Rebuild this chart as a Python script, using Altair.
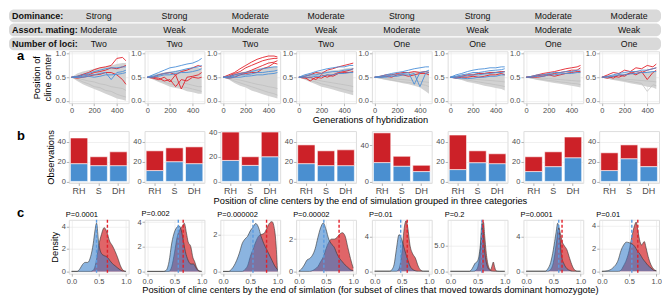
import altair as alt
import pandas as pd

FONT = "Liberation Sans"

# ---------------- header ----------------
HEADER_LABELS = ["Dominance:", "Assort. mating:", "Number of loci:"]
DOMINANCE = ["Strong", "Strong", "Moderate", "Moderate", "Strong", "Strong", "Moderate", "Moderate"]
ASSORT = ["Moderate", "Weak", "Moderate", "Weak", "Moderate", "Weak", "Moderate", "Weak"]
LOCI = ["Two", "Two", "Two", "Two", "One", "One", "One", "One"]

# ---------------- panel a: trajectories ----------------
GENS = [0, 50, 100, 150, 200, 250, 300, 350, 400, 450, 480]
GRAY_LO = [
    [0.5, 0.42, 0.35, 0.3, 0.25, 0.2, 0.15, 0.1, 0.05, 0.02, 0.0],
    [0.5, 0.45, 0.4, 0.35, 0.3, 0.27, 0.25, 0.2, 0.18, 0.15, 0.15],
    [0.5, 0.45, 0.38, 0.32, 0.28, 0.22, 0.18, 0.14, 0.1, 0.07, 0.05],
    [0.5, 0.45, 0.4, 0.35, 0.3, 0.27, 0.24, 0.2, 0.17, 0.14, 0.12],
    [0.5, 0.47, 0.44, 0.42, 0.4, 0.37, 0.35, 0.32, 0.28, 0.2, 0.15],
    [0.5, 0.47, 0.44, 0.4, 0.38, 0.35, 0.32, 0.3, 0.27, 0.25, 0.22],
    [0.5, 0.47, 0.44, 0.42, 0.4, 0.38, 0.36, 0.34, 0.32, 0.3, 0.28],
    [0.5, 0.47, 0.44, 0.42, 0.4, 0.37, 0.35, 0.33, 0.3, 0.28, 0.25],
]
GRAY_HI = [
    [0.5, 0.58, 0.62, 0.65, 0.68, 0.7, 0.72, 0.75, 0.78, 0.8, 0.8],
    [0.5, 0.55, 0.58, 0.6, 0.62, 0.64, 0.65, 0.68, 0.7, 0.7, 0.7],
    [0.5, 0.55, 0.58, 0.6, 0.62, 0.65, 0.68, 0.7, 0.72, 0.72, 0.72],
    [0.5, 0.55, 0.58, 0.6, 0.62, 0.63, 0.65, 0.66, 0.68, 0.7, 0.7],
    [0.5, 0.53, 0.55, 0.57, 0.58, 0.6, 0.6, 0.62, 0.62, 0.63, 0.63],
    [0.5, 0.53, 0.55, 0.57, 0.58, 0.6, 0.6, 0.62, 0.62, 0.63, 0.63],
    [0.5, 0.53, 0.55, 0.57, 0.58, 0.6, 0.6, 0.6, 0.62, 0.62, 0.62],
    [0.5, 0.53, 0.55, 0.57, 0.58, 0.6, 0.6, 0.62, 0.62, 0.63, 0.63],
]
# a few individual grey trajectories drawn over the grey envelope
GRAY_LINES = [
    [[0.5, 0.46, 0.4, 0.36, 0.3, 0.28, 0.22, 0.2, 0.14, 0.1, 0.08],
     [0.5, 0.48, 0.45, 0.42, 0.4, 0.36, 0.34, 0.3, 0.28, 0.26, 0.22]],
    [[0.5, 0.47, 0.43, 0.4, 0.36, 0.33, 0.3, 0.28, 0.25, 0.22, 0.2],
     [0.5, 0.49, 0.47, 0.44, 0.42, 0.4, 0.38, 0.36, 0.33, 0.3, 0.3]],
    [[0.5, 0.47, 0.42, 0.38, 0.34, 0.3, 0.26, 0.22, 0.18, 0.15, 0.12],
     [0.5, 0.49, 0.46, 0.44, 0.41, 0.38, 0.35, 0.33, 0.3, 0.28, 0.26]],
    [[0.5, 0.47, 0.43, 0.4, 0.36, 0.33, 0.3, 0.27, 0.24, 0.21, 0.2],
     [0.5, 0.49, 0.47, 0.45, 0.42, 0.4, 0.38, 0.36, 0.34, 0.32, 0.3]],
    [[0.5, 0.48, 0.46, 0.44, 0.42, 0.4, 0.39, 0.37, 0.35, 0.33, 0.3],
     [0.5, 0.49, 0.48, 0.47, 0.46, 0.45, 0.44, 0.42, 0.41, 0.4, 0.39]],
    [[0.5, 0.48, 0.46, 0.44, 0.42, 0.4, 0.38, 0.36, 0.34, 0.32, 0.3],
     [0.5, 0.49, 0.48, 0.47, 0.46, 0.45, 0.44, 0.43, 0.42, 0.41, 0.4]],
    [[0.5, 0.48, 0.46, 0.45, 0.43, 0.42, 0.4, 0.39, 0.37, 0.36, 0.34],
     [0.5, 0.49, 0.48, 0.48, 0.47, 0.46, 0.45, 0.44, 0.43, 0.42, 0.42]],
    [[0.5, 0.48, 0.46, 0.45, 0.43, 0.41, 0.39, 0.37, 0.2, 0.34, 0.32],
     [0.5, 0.49, 0.48, 0.47, 0.46, 0.45, 0.44, 0.43, 0.42, 0.41, 0.4]],
]
RED_LINES = [
    [[0.5, 0.52, 0.56, 0.6, 0.66, 0.7, 0.72, 0.75, 0.9, 0.92, 0.85],
     [0.5, 0.5, 0.55, 0.55, 0.6, 0.62, 0.65, 0.7, 0.68, 0.72, 0.75],
     [0.5, 0.48, 0.5, 0.52, 0.55, 0.56, 0.6, 0.6, 0.55, 0.45, 0.35]],
    [[0.5, 0.5, 0.55, 0.58, 0.6, 0.55, 0.62, 0.65, 0.7, 0.75, 0.72],
     [0.5, 0.48, 0.45, 0.5, 0.4, 0.55, 0.25, 0.5, 0.52, 0.55, 0.6],
     [0.5, 0.5, 0.48, 0.42, 0.45, 0.3, 0.45, 0.42, 0.5, 0.48, 0.5]],
    [[0.5, 0.55, 0.6, 0.68, 0.75, 0.82, 0.88, 0.92, 0.95, 0.95, 0.93],
     [0.5, 0.52, 0.58, 0.62, 0.7, 0.75, 0.8, 0.85, 0.88, 0.9, 0.9],
     [0.5, 0.5, 0.55, 0.58, 0.6, 0.65, 0.7, 0.75, 0.8, 0.82, 0.85],
     [0.5, 0.48, 0.5, 0.55, 0.58, 0.6, 0.6, 0.68, 0.72, 0.8, 0.78]],
    [[0.5, 0.52, 0.55, 0.6, 0.58, 0.65, 0.68, 0.72, 0.75, 0.78, 0.8],
     [0.5, 0.48, 0.5, 0.45, 0.55, 0.5, 0.55, 0.6, 0.62, 0.65, 0.68],
     [0.5, 0.5, 0.42, 0.5, 0.48, 0.55, 0.52, 0.58, 0.6, 0.6, 0.62]],
    [[0.5, 0.52, 0.55, 0.55, 0.58, 0.6, 0.6, 0.62, 0.6, 0.62, 0.6],
     [0.5, 0.5, 0.52, 0.5, 0.55, 0.55, 0.52, 0.55, 0.58, 0.58, 0.55]],
    [[0.5, 0.5, 0.52, 0.55, 0.55, 0.58, 0.58, 0.6, 0.6, 0.62, 0.62],
     [0.5, 0.48, 0.5, 0.5, 0.52, 0.5, 0.52, 0.55, 0.55, 0.58, 0.55]],
    [[0.5, 0.52, 0.55, 0.58, 0.6, 0.62, 0.65, 0.68, 0.7, 0.72, 0.75],
     [0.5, 0.5, 0.53, 0.55, 0.55, 0.58, 0.6, 0.62, 0.65, 0.65, 0.7],
     [0.5, 0.5, 0.5, 0.52, 0.55, 0.52, 0.55, 0.58, 0.6, 0.62, 0.62]],
    [[0.5, 0.55, 0.6, 0.58, 0.65, 0.62, 0.7, 0.68, 0.75, 0.72, 0.78],
     [0.5, 0.52, 0.48, 0.55, 0.52, 0.6, 0.55, 0.62, 0.45, 0.6, 0.65],
     [0.5, 0.48, 0.52, 0.5, 0.55, 0.58, 0.62, 0.6, 0.65, 0.68, 0.7]],
]
BLUE_LINES = [
    [[0.5, 0.52, 0.55, 0.58, 0.62, 0.65, 0.68, 0.7, 0.7, 0.72, 0.72],
     [0.5, 0.5, 0.52, 0.55, 0.55, 0.58, 0.6, 0.45, 0.6, 0.62, 0.65],
     [0.5, 0.5, 0.5, 0.52, 0.5, 0.52, 0.55, 0.55, 0.56, 0.58, 0.6]],
    [[0.5, 0.55, 0.6, 0.65, 0.7, 0.72, 0.75, 0.78, 0.8, 0.85, 0.9],
     [0.5, 0.52, 0.55, 0.58, 0.6, 0.62, 0.65, 0.68, 0.7, 0.72, 0.75],
     [0.5, 0.5, 0.52, 0.55, 0.55, 0.58, 0.6, 0.6, 0.62, 0.65, 0.68]],
    [[0.5, 0.52, 0.55, 0.58, 0.6, 0.62, 0.65, 0.68, 0.7, 0.72, 0.72],
     [0.5, 0.5, 0.52, 0.55, 0.55, 0.57, 0.6, 0.6, 0.62, 0.63, 0.65],
     [0.5, 0.48, 0.5, 0.5, 0.52, 0.53, 0.55, 0.55, 0.57, 0.58, 0.6]],
    [[0.5, 0.55, 0.58, 0.62, 0.65, 0.68, 0.7, 0.72, 0.72, 0.75, 0.75],
     [0.5, 0.52, 0.55, 0.55, 0.58, 0.6, 0.62, 0.62, 0.65, 0.66, 0.68],
     [0.5, 0.5, 0.5, 0.52, 0.52, 0.55, 0.55, 0.58, 0.58, 0.6, 0.6]],
    [[0.5, 0.52, 0.55, 0.58, 0.6, 0.62, 0.65, 0.68, 0.7, 0.72, 0.72],
     [0.5, 0.5, 0.52, 0.55, 0.55, 0.58, 0.6, 0.35, 0.6, 0.62, 0.65],
     [0.5, 0.5, 0.5, 0.52, 0.52, 0.55, 0.55, 0.58, 0.3, 0.58, 0.6]],
    [[0.5, 0.55, 0.58, 0.62, 0.65, 0.67, 0.68, 0.7, 0.7, 0.72, 0.72],
     [0.5, 0.52, 0.55, 0.57, 0.6, 0.6, 0.62, 0.64, 0.65, 0.66, 0.68],
     [0.5, 0.5, 0.52, 0.53, 0.55, 0.55, 0.57, 0.58, 0.6, 0.6, 0.62],
     [0.5, 0.48, 0.48, 0.47, 0.48, 0.5, 0.5, 0.52, 0.52, 0.55, 0.55]],
    [[0.5, 0.52, 0.55, 0.55, 0.58, 0.6, 0.6, 0.62, 0.62, 0.65, 0.65],
     [0.5, 0.5, 0.52, 0.52, 0.55, 0.55, 0.57, 0.58, 0.58, 0.6, 0.6]],
    [[0.5, 0.52, 0.55, 0.58, 0.6, 0.62, 0.62, 0.65, 0.65, 0.68, 0.7],
     [0.5, 0.5, 0.52, 0.55, 0.55, 0.57, 0.58, 0.6, 0.6, 0.62, 0.62]],
]

# ---------------- panel b: stacked bars ----------------
CATS = ["RH", "S", "DH"]
B_TOTAL = [[44, 25, 30], [31, 34, 35], [40, 20, 40], [37, 31, 32],
           [54, 28, 18], [47, 31, 28], [25, 30, 45], [29, 37, 34]]
B_BLUE = [[18, 16, 16], [11, 20, 18], [17, 13, 20], [18, 16, 16],
          [21, 17, 11], [12, 19, 18], [10, 15, 24], [11, 23, 15]]
B_YDOM = [[-1.5, 51], [-1.5, 51], [-1.2, 40.8], [-1.5, 51],
          [-1.6, 56], [-1.5, 51], [-1.5, 51], [-1.5, 51]]
B_TICKS = [[0, 20, 40], [0, 20, 40], [0, 20, 40], [0, 20, 40],
           [0, 40], [0, 20, 40], [0, 20, 40], [0, 20, 40]]

# ---------------- panel c: densities ----------------
P_VALUES = ["P=0.0001", "P=0.002", "P=0.000002", "P=0.00002", "P=0.01", "P=0.2", "P=0.0001", "P=0.01"]
C_BLUE = [
    [[0, 0], [0.1, 0], [0.15, 0.2], [0.2, 0.6], [0.25, 0.8], [0.3, 0.8], [0.35, 1.3], [0.4, 2.5], [0.43, 3.6],
     [0.46, 4.3], [0.5, 2.5], [0.55, 1.6], [0.6, 1.4], [0.65, 1.3], [0.7, 1.0], [0.75, 0.7], [0.8, 0.5],
     [0.85, 0.3], [0.9, 0.12], [0.95, 0.02], [1.0, 0]],
    [[0, 0], [0.3, 0], [0.35, 0.1], [0.4, 0.8], [0.45, 2.3], [0.5, 3.2], [0.55, 3.6], [0.58, 3.7], [0.62, 3.4],
     [0.65, 2.8], [0.7, 1.6], [0.75, 0.9], [0.8, 0.6], [0.85, 0.6], [0.9, 0.25], [0.95, 0.02], [1.0, 0]],
    [[0, 0], [0.1, 0], [0.15, 0.1], [0.2, 0.3], [0.25, 0.6], [0.3, 1.0], [0.35, 1.5], [0.4, 1.75], [0.45, 1.9],
     [0.5, 2.2], [0.55, 2.4], [0.6, 2.6], [0.65, 2.4], [0.7, 1.9], [0.75, 1.5], [0.8, 1.2], [0.85, 0.9],
     [0.9, 0.6], [0.95, 0.3], [1.0, 0.1]],
    [[0, 0.02], [0.05, 0.15], [0.1, 0.4], [0.15, 0.7], [0.2, 0.8], [0.25, 1.0], [0.3, 1.4], [0.35, 2.1],
     [0.4, 2.7], [0.45, 3.0], [0.5, 2.6], [0.55, 2.0], [0.6, 1.7], [0.65, 1.5], [0.7, 1.1], [0.75, 0.8],
     [0.8, 0.6], [0.85, 0.4], [0.9, 0.25], [0.95, 0.1], [1.0, 0.05]],
    [[0, 0], [0.28, 0], [0.32, 0.2], [0.36, 0.8], [0.4, 2.5], [0.45, 4.2], [0.5, 3.6], [0.55, 2.5], [0.6, 1.5],
     [0.65, 0.6], [0.7, 0.2], [0.75, 0.05], [0.8, 0], [1.0, 0]],
    [[0, 0], [0.35, 0], [0.4, 0.5], [0.45, 1.5], [0.5, 2.0], [0.55, 5.0], [0.58, 9.3], [0.6, 8.0], [0.63, 4.0],
     [0.66, 1.8], [0.7, 0.5], [0.75, 0.1], [0.8, 0], [1.0, 0]],
    [[0, 0], [0.35, 0], [0.4, 0.3], [0.45, 1.0], [0.5, 2.5], [0.55, 4.5], [0.58, 5.6], [0.61, 4.6], [0.65, 1.8],
     [0.7, 0.8], [0.75, 0.3], [0.8, 0.1], [0.85, 0], [1.0, 0]],
    [[0, 0], [0.1, 0.05], [0.2, 0.3], [0.3, 1.0], [0.35, 1.8], [0.4, 2.3], [0.45, 2.55], [0.5, 2.5], [0.55, 2.4],
     [0.6, 2.2], [0.65, 1.8], [0.7, 1.5], [0.75, 1.1], [0.8, 0.8], [0.85, 0.5], [0.9, 0.3], [0.95, 0.1],
     [1.0, 0.05]],
]
C_RED = [
    [[0, 0], [0.35, 0], [0.4, 0.1], [0.45, 0.8], [0.5, 2.3], [0.55, 3.3], [0.6, 3.9], [0.65, 3.5], [0.7, 2.7],
     [0.75, 2.3], [0.8, 1.8], [0.85, 1.2], [0.9, 0.5], [0.95, 0.1], [1.0, 0]],
    [[0, 0], [0.4, 0], [0.45, 0.4], [0.5, 1.5], [0.55, 2.8], [0.6, 3.4], [0.65, 3.7], [0.68, 3.9], [0.72, 3.1],
     [0.75, 2.4], [0.8, 2.0], [0.84, 1.1], [0.87, 0.8], [0.9, 0.4], [0.95, 0.05], [1.0, 0]],
    [[0, 0], [0.35, 0], [0.4, 0.1], [0.45, 0.3], [0.5, 0.8], [0.55, 1.2], [0.6, 1.6], [0.65, 1.9], [0.7, 2.0],
     [0.75, 2.05], [0.8, 2.3], [0.85, 2.6], [0.9, 2.7], [0.95, 2.2], [0.98, 1.2], [1.0, 0]],
    [[0, 0], [0.2, 0], [0.25, 0.05], [0.3, 0.15], [0.35, 0.3], [0.4, 0.6], [0.45, 0.9], [0.5, 1.4], [0.55, 1.8],
     [0.6, 2.0], [0.65, 2.0], [0.7, 2.1], [0.75, 2.3], [0.8, 2.4], [0.85, 2.2], [0.9, 1.5], [0.95, 0.8],
     [1.0, 0.2]],
    [[0, 0], [0.4, 0], [0.45, 0.3], [0.5, 2.0], [0.55, 5.2], [0.58, 5.8], [0.61, 5.0], [0.65, 3.0], [0.7, 2.0],
     [0.75, 1.5], [0.8, 0.6], [0.85, 0.1], [0.9, 0], [1.0, 0]],
    [[0, 0], [0.42, 0], [0.47, 0.2], [0.52, 1.5], [0.56, 5.0], [0.59, 9.0], [0.61, 9.5], [0.63, 7.0], [0.66, 3.5],
     [0.7, 1.0], [0.74, 0.3], [0.77, 1.2], [0.79, 1.8], [0.81, 1.0], [0.84, 0.1], [0.9, 0], [1.0, 0]],
    [[0, 0], [0.4, 0], [0.45, 0.2], [0.5, 1.0], [0.55, 3.0], [0.6, 5.1], [0.63, 4.4], [0.66, 3.5], [0.7, 3.0],
     [0.75, 2.5], [0.8, 1.5], [0.85, 0.6], [0.9, 0.1], [0.95, 0], [1.0, 0]],
    [[0, 0], [0.3, 0], [0.35, 0.1], [0.4, 0.5], [0.45, 1.0], [0.5, 1.8], [0.55, 3.0], [0.6, 4.0], [0.63, 4.3],
     [0.66, 3.6], [0.7, 2.6], [0.73, 2.3], [0.76, 2.5], [0.78, 2.6], [0.81, 2.1], [0.85, 1.3], [0.9, 0.6],
     [0.95, 0.2], [1.0, 0.05]],
]
C_MEAN_BLUE = [0.46, 0.57, 0.55, 0.46, 0.48, 0.58, 0.6, 0.55]
C_MEAN_RED = [0.66, 0.66, 0.8, 0.74, 0.6, 0.6, 0.66, 0.66]
C_YDOM = [[-0.2, 4.6], [-0.18, 4.18], [-0.12, 2.8], [-0.14, 3.2],
          [-0.28, 5.9], [-0.45, 10.0], [-0.28, 6.0], [-0.2, 4.5]]
C_TICKS = [[0, 2, 4], [0, 2, 4], [0, 2], [0, 2], [0, 4], [0, 5], [0, 4], [0, 2, 4]]
C_FMT = ["d", "d", "d", "d", "d", ".1f", "d", "d"]

TITLE_A = "Generations of hybridization"
TITLE_B = "Position of cline centers by the end of simulation grouped in three categories"
TITLE_C = ("Position of cline centers by the end of simlation "
           "(for subset of clines that moved towards dominant homozygote)")

# ---------------- styling ----------------
W, SX = 60, 16
TOTAL_W = 8 * W + 7 * SX
HA, HB, HC = 52, 52, 54
GAP_AB, GAP_BC = 28, 37
LINE_RED, LINE_BLUE, GRAY, GRAY_LINE = "#e3202a", "#4b8fd8", "#d2d2d2", "#bdbdbd"
BAR_RED, BAR_BLUE = "#cc2128", "#4a8fd0"
DEN_RED, DEN_BLUE = "#e06568", "#377eca"
TITLE_CENTER_PANEL, TITLE_X = 4, -2


def ax(**kw):
    d = dict(labelFontSize=7.5, labelColor="#4d4d4d", tickColor="#b3b3b3", tickSize=2.5,
             domain=False, gridColor="#e6e6e6", gridWidth=0.6, labelPadding=1,
             titleFontSize=9.3, titleFontWeight="normal", titleColor="#000000",
             labelFont=FONT, titleFont=FONT)
    d.update(kw)
    return alt.Axis(**d)


def xtitle(p, title):
    if p == TITLE_CENTER_PANEL:
        return dict(title=title, titleX=TITLE_X, titleAlign="center", titlePadding=1)
    return dict(title=None)


def row_label(t, dy):
    return alt.Chart(pd.DataFrame({"t": [t]})).mark_text(
        fontSize=13, fontWeight="bold", align="left", baseline="top", font=FONT
    ).encode(x=alt.value(-52), y=alt.value(dy), text="t:N")


def make_a(p):
    band = pd.DataFrame({"gen": GENS, "v": GRAY_LO[p], "v2": GRAY_HI[p]})
    rows = []
    for col, group in (("gray", GRAY_LINES[p]), ("red", RED_LINES[p]), ("blue", BLUE_LINES[p])):
        for k, ser in enumerate(group):
            for g, v in zip(GENS, ser):
                rows.append({"gen": g, "v": v, "s": f"{col}{k}", "c": col})
    ldf = pd.DataFrame(rows)
    ykw = dict(values=[0, 0.5, 1], format=".1f")
    if p == 0:
        ykw.update(title=["Position of", "cline center"], titlePadding=2)
    else:
        ykw.update(title=None)
    x = alt.X("gen:Q", scale=alt.Scale(domain=[-24, 504], nice=False, zero=False),
              axis=ax(values=[0, 200, 400], **xtitle(p, TITLE_A)))
    y = alt.Y("v:Q", scale=alt.Scale(domain=[-0.05, 1.05], nice=False, zero=False), axis=ax(**ykw))
    area = alt.Chart(band).mark_area(color=GRAY).encode(x=x, y=y, y2="v2:Q")
    gray = alt.Chart(ldf[ldf.c == "gray"]).mark_line(color=GRAY_LINE, strokeWidth=0.7).encode(
        x=x, y=y, detail="s:N")
    red = alt.Chart(ldf[ldf.c == "red"]).mark_line(color=LINE_RED, strokeWidth=0.9).encode(
        x=x, y=y, detail="s:N")
    blue = alt.Chart(ldf[ldf.c == "blue"]).mark_line(color=LINE_BLUE, strokeWidth=0.9).encode(
        x=x, y=y, detail="s:N")
    layers = [area, gray, red, blue]
    if p == 0:
        layers.append(row_label("a", -1))
    return alt.layer(*layers).properties(width=W, height=HA)


def make_b(p):
    rows = []
    for cat, tot, bl in zip(CATS, B_TOTAL[p], B_BLUE[p]):
        rows.append({"cat": cat, "lo": 0, "hi": bl, "grp": "blue"})
        rows.append({"cat": cat, "lo": bl, "hi": tot, "grp": "red"})
    df = pd.DataFrame(rows)
    ykw = dict(values=B_TICKS[p])
    ykw.update(dict(title="Observations", titlePadding=2) if p == 0 else dict(title=None))
    x = alt.X("cat:N", sort=CATS, scale=alt.Scale(paddingInner=0.12, paddingOuter=0.08),
              axis=ax(labelAngle=0, labelFontSize=9, **xtitle(p, TITLE_B)))
    y = alt.Y("lo:Q", scale=alt.Scale(domain=B_YDOM[p], nice=False, zero=False), axis=ax(**ykw))
    bars = alt.Chart(df).mark_bar(stroke="white", strokeWidth=0.6).encode(
        x=x, y=y, y2="hi:Q",
        color=alt.Color("grp:N", scale=alt.Scale(domain=["blue", "red"], range=[BAR_BLUE, BAR_RED]),
                        legend=None))
    layers = [bars]
    if p == 0:
        layers.append(row_label("b", -1))
    return alt.layer(*layers).properties(width=W, height=HB)


def make_c(p):
    bdf = pd.DataFrame(C_BLUE[p], columns=["x", "d"])
    rdf = pd.DataFrame(C_RED[p], columns=["x", "d"])
    bdf["d0"] = 0.0
    rdf["d0"] = 0.0
    ykw = dict(values=C_TICKS[p], format=C_FMT[p])
    ykw.update(dict(title="Density", titlePadding=2) if p == 0 else dict(title=None))
    x = alt.X("x:Q", scale=alt.Scale(domain=[-0.05, 1.05], nice=False, zero=False),
              axis=ax(values=[0, 0.5, 1], format=".1f", **xtitle(p, TITLE_C)))
    y = alt.Y("d:Q", scale=alt.Scale(domain=C_YDOM[p], nice=False, zero=False), axis=ax(**ykw))
    red_a = alt.Chart(rdf).mark_area(color=DEN_RED, interpolate="monotone").encode(x=x, y=y, y2="d0:Q")
    red_l = alt.Chart(rdf).mark_line(color="#333333", strokeWidth=0.6, interpolate="monotone").encode(x=x, y=y)
    blue_a = alt.Chart(bdf).mark_area(color=DEN_BLUE, opacity=0.58, interpolate="monotone").encode(
        x=x, y=y, y2="d0:Q")
    blue_l = alt.Chart(bdf).mark_line(color="#333333", strokeWidth=0.6, interpolate="monotone").encode(x=x, y=y)
    mb = alt.Chart(pd.DataFrame({"x": [C_MEAN_BLUE[p]]})).mark_rule(
        color="#5b9be0", strokeDash=[3, 2], strokeWidth=1.4).encode(x=x)
    mr = alt.Chart(pd.DataFrame({"x": [C_MEAN_RED[p]]})).mark_rule(
        color="#e3202a", strokeDash=[3, 2], strokeWidth=1.4).encode(x=x)
    return alt.layer(red_a, red_l, blue_a, blue_l, mb, mr).properties(
        width=W, height=HC,
        title=alt.TitleParams(P_VALUES[p], anchor="start", frame="group", fontSize=7.5,
                              fontWeight="normal", offset=1, dx=-3, font=FONT, color="#000000"))


def make_header():
    rows = []
    for lab, vals in zip(HEADER_LABELS, [DOMINANCE, ASSORT, LOCI]):
        for i, v in enumerate(vals):
            rows.append({"row": lab, "col": i, "val": v})
    hdf = pd.DataFrame(rows)
    sdf = pd.DataFrame({"row": HEADER_LABELS})
    y = alt.Y("row:N", sort=HEADER_LABELS, axis=None,
              scale=alt.Scale(paddingInner=0.08, paddingOuter=0))
    strips = alt.Chart(sdf).mark_rect(color="#d9d9d9", cornerRadius=5).encode(
        x=alt.value(-60), x2=alt.value(TOTAL_W + 2), y=y)
    labels = alt.Chart(sdf).mark_text(align="left", fontWeight="bold", fontSize=9, font=FONT,
                                      color="#111111").encode(x=alt.value(-57), y=y, text="row:N")
    span = TOTAL_W / (W + SX)
    start = -(W / 2) / (W + SX)
    vals = alt.Chart(hdf).mark_text(fontSize=8.8, font=FONT, color="#111111").encode(
        x=alt.X("col:Q", scale=alt.Scale(domain=[start, start + span], nice=False, zero=False), axis=None),
        y=y, text="val:N")
    return alt.layer(strips, labels, vals).properties(
        width=TOTAL_W, height=41, view=alt.ViewBackground(stroke="transparent"))


def spacer(h, label=None):
    base = alt.Chart(pd.DataFrame({"z": [0]})).mark_point(opacity=0, size=1).encode(
        x=alt.value(0), y=alt.value(0))
    if label is not None:
        base = alt.layer(base, row_label(label, h - 13))
    return base.properties(width=W, height=h, view=alt.ViewBackground(stroke="transparent"))


cells = ([make_a(p) for p in range(8)] + [spacer(GAP_AB) for _ in range(8)]
         + [make_b(p) for p in range(8)]
         + [spacer(GAP_BC, "c")] + [spacer(GAP_BC) for _ in range(7)]
         + [make_c(p) for p in range(8)])
grid = alt.concat(*cells, columns=8, spacing={"row": 0, "column": SX}, bounds="flush")

chart = alt.vconcat(make_header(), grid, spacing=-4).properties(padding=0).configure_view(
    stroke="#b3b3b3", strokeWidth=0.8).configure(font=FONT)

chart.save("out.html", embed_options={"renderer": "svg", "actions": False})
